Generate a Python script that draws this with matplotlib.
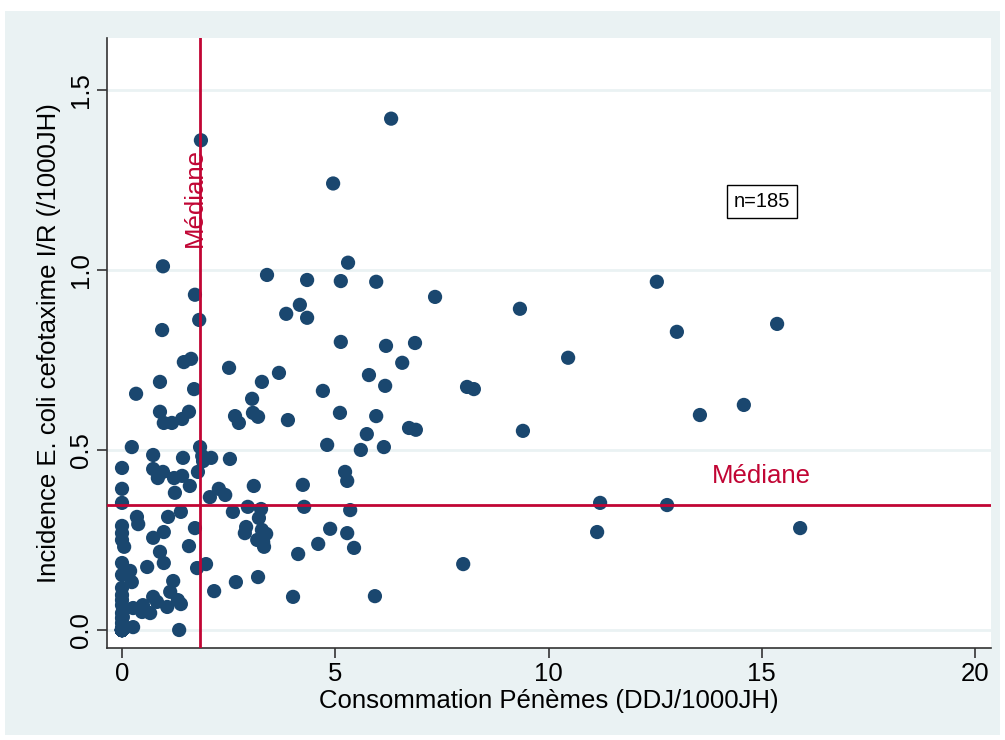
import matplotlib
matplotlib.use("Agg")
import matplotlib.pyplot as plt
from matplotlib.patches import Rectangle

plt.rcParams["font.family"] = ["Liberation Sans", "DejaVu Sans"]

# Carbapenem consumption (DDJ/1000JH) and cefotaxime I/R E. coli incidence (/1000JH)
cons = [
    1.85, 6.31, 4.95, 0.96, 5.30, 3.40, 4.34, 5.13, 5.96, 12.54,
    7.34, 1.71, 4.17, 3.85, 4.34, 9.33, 1.81, 15.36, 13.01, 0.94,
    5.13, 6.19, 6.87, 10.46, 1.62, 1.45, 6.57, 2.51, 3.68, 5.79,
    3.28, 0.89, 6.17, 8.09, 8.25, 1.69, 4.71, 0.33, 14.58, 13.55,
    9.40, 0.89, 0.98, 1.17, 1.41, 1.57, 2.65, 2.74, 3.05, 3.07,
    3.19, 3.89, 5.11, 5.96, 5.74, 6.73, 6.89, 4.81, 5.60, 6.14,
    5.23, 5.28, 4.24, 4.27, 5.35, 4.88, 5.28, 4.60, 5.44, 4.13,
    8.00, 5.93, 4.01, 11.21, 12.78, 11.14, 15.90,
    0.23, 0.73, 1.43, 1.83, 1.88, 1.90, 2.09, 2.53, 0.00, 0.73,
    0.96, 0.84, 1.22, 1.41, 1.78, 1.59, 1.24, 3.09, 2.27, 2.42,
    2.06, 0.00, 0.00, 2.95, 3.26, 3.21, 2.60, 1.38, 0.35, 0.38,
    1.08, 1.71, 0.98, 0.73, 2.91, 2.88, 3.28, 3.38, 3.17, 3.31,
    3.33, 1.57, 0.89, 0.98, 0.59, 0.19, 0.23, 1.76, 1.97, 3.19,
    2.67, 2.16, 1.20, 1.13, 0.73, 0.82, 1.31, 1.38, 1.06, 0.49,
    0.47, 0.66, 0.26, 0.26, 1.34, 0.05,
    0.00, 0.00, 0.00, 0.00, 0.00, 0.00, 0.00, 0.00, 0.00, 0.00,
    0.00, 0.00, 0.00, 0.00, 0.00, 0.02,
]
incid = [
    1.36, 1.42, 1.24, 1.01, 1.02, 0.986, 0.972, 0.969, 0.967, 0.967,
    0.925, 0.931, 0.903, 0.878, 0.867, 0.892, 0.861, 0.850, 0.828, 0.833,
    0.800, 0.789, 0.797, 0.756, 0.753, 0.744, 0.742, 0.728, 0.714, 0.708,
    0.689, 0.689, 0.678, 0.675, 0.669, 0.669, 0.664, 0.656, 0.625, 0.597,
    0.553, 0.606, 0.575, 0.575, 0.586, 0.606, 0.594, 0.575, 0.642, 0.603,
    0.592, 0.583, 0.603, 0.594, 0.544, 0.561, 0.556, 0.514, 0.500, 0.508,
    0.439, 0.414, 0.403, 0.342, 0.333, 0.281, 0.269, 0.239, 0.228, 0.211,
    0.183, 0.094, 0.092, 0.353, 0.347, 0.272, 0.283,
    0.508, 0.486, 0.478, 0.508, 0.483, 0.469, 0.478, 0.475, 0.450, 0.447,
    0.439, 0.422, 0.422, 0.428, 0.439, 0.400, 0.381, 0.400, 0.392, 0.375,
    0.369, 0.392, 0.353, 0.342, 0.336, 0.311, 0.328, 0.328, 0.314, 0.294,
    0.314, 0.283, 0.272, 0.256, 0.286, 0.269, 0.278, 0.267, 0.250, 0.244,
    0.231, 0.233, 0.217, 0.186, 0.175, 0.164, 0.133, 0.172, 0.183, 0.147,
    0.133, 0.108, 0.136, 0.106, 0.092, 0.078, 0.083, 0.072, 0.064, 0.069,
    0.050, 0.047, 0.061, 0.008, 0.000, 0.231,
    0.289, 0.269, 0.250, 0.186, 0.153, 0.117, 0.097, 0.083, 0.069, 0.047,
    0.033, 0.019, 0.006, 0.000, 0.000, 0.036,
]
# Hospitals with no carbapenem use and no resistant isolates (overlapping at the origin)
zero_cons = [0.0] * 26
zero_incid = [0.0] * 26

median_cons = 1.84
median_incid = 0.347

x_ticks = [0, 5, 10, 15, 20]
y_ticks = [0.0, 0.5, 1.0, 1.5]
y_tick_labels = ["0.0", "0.5", "1.0", "1.5"]

navy = "#1a476f"
red = "#c10534"
bg = "#eaf2f3"
fs = 18.5

fig = plt.figure(figsize=(10.05, 7.4), dpi=100, facecolor="white")
fig.patches.append(Rectangle((5 / 1005, 5 / 740), 995 / 1005, 724 / 740,
                             transform=fig.transFigure, facecolor=bg,
                             edgecolor="none", zorder=-10))

ax = fig.add_axes([107 / 1005, 92 / 740, 884 / 1005, 610 / 740])
ax.set_facecolor("white")
ax.set_xlim(-0.352, 20.375)
ax.set_ylim(-0.05, 1.644)

for yv in y_ticks:
    ax.axhline(yv, color=bg, lw=2.0, zorder=1)

all_x = cons + zero_cons
all_y = incid + zero_incid
ax.scatter(all_x, all_y, s=105, color=navy, edgecolors="none", zorder=3)

ax.axvline(median_cons, color=red, lw=2.0, zorder=4)
ax.axhline(median_incid, color=red, lw=2.0, zorder=4)
ax.text(1.72, 1.20, "Médiane", rotation=90, ha="center", va="center",
        color=red, fontsize=fs, zorder=5)
ax.text(15.0, 0.408, "Médiane", ha="center", va="baseline",
        color=red, fontsize=fs, zorder=5)

ax.text(15.0, 1.19, f"n={len(all_x)}", ha="center", va="center", fontsize=14.5,
        bbox=dict(boxstyle="square,pad=0.35", facecolor="white",
                  edgecolor="black", lw=1.0), zorder=6)

for side in ("top", "right"):
    ax.spines[side].set_visible(False)
for side in ("left", "bottom"):
    ax.spines[side].set_color("#333333")
    ax.spines[side].set_linewidth(1.2)

ax.set_xticks(x_ticks)
ax.set_xticklabels([str(v) for v in x_ticks])
ax.set_yticks(y_ticks)
ax.set_yticklabels(y_tick_labels, rotation=90, va="center")
ax.tick_params(axis="both", direction="out", length=7, width=1.2,
               color="#333333", labelsize=fs, pad=3)

ax.set_xlabel("Consommation Pénèmes (DDJ/1000JH)", fontsize=fs, labelpad=2)
ax.set_ylabel("Incidence E. coli cefotaxime I/R (/1000JH)", fontsize=fs, labelpad=6)

fig.savefig("out.png", dpi=100, facecolor="white")
